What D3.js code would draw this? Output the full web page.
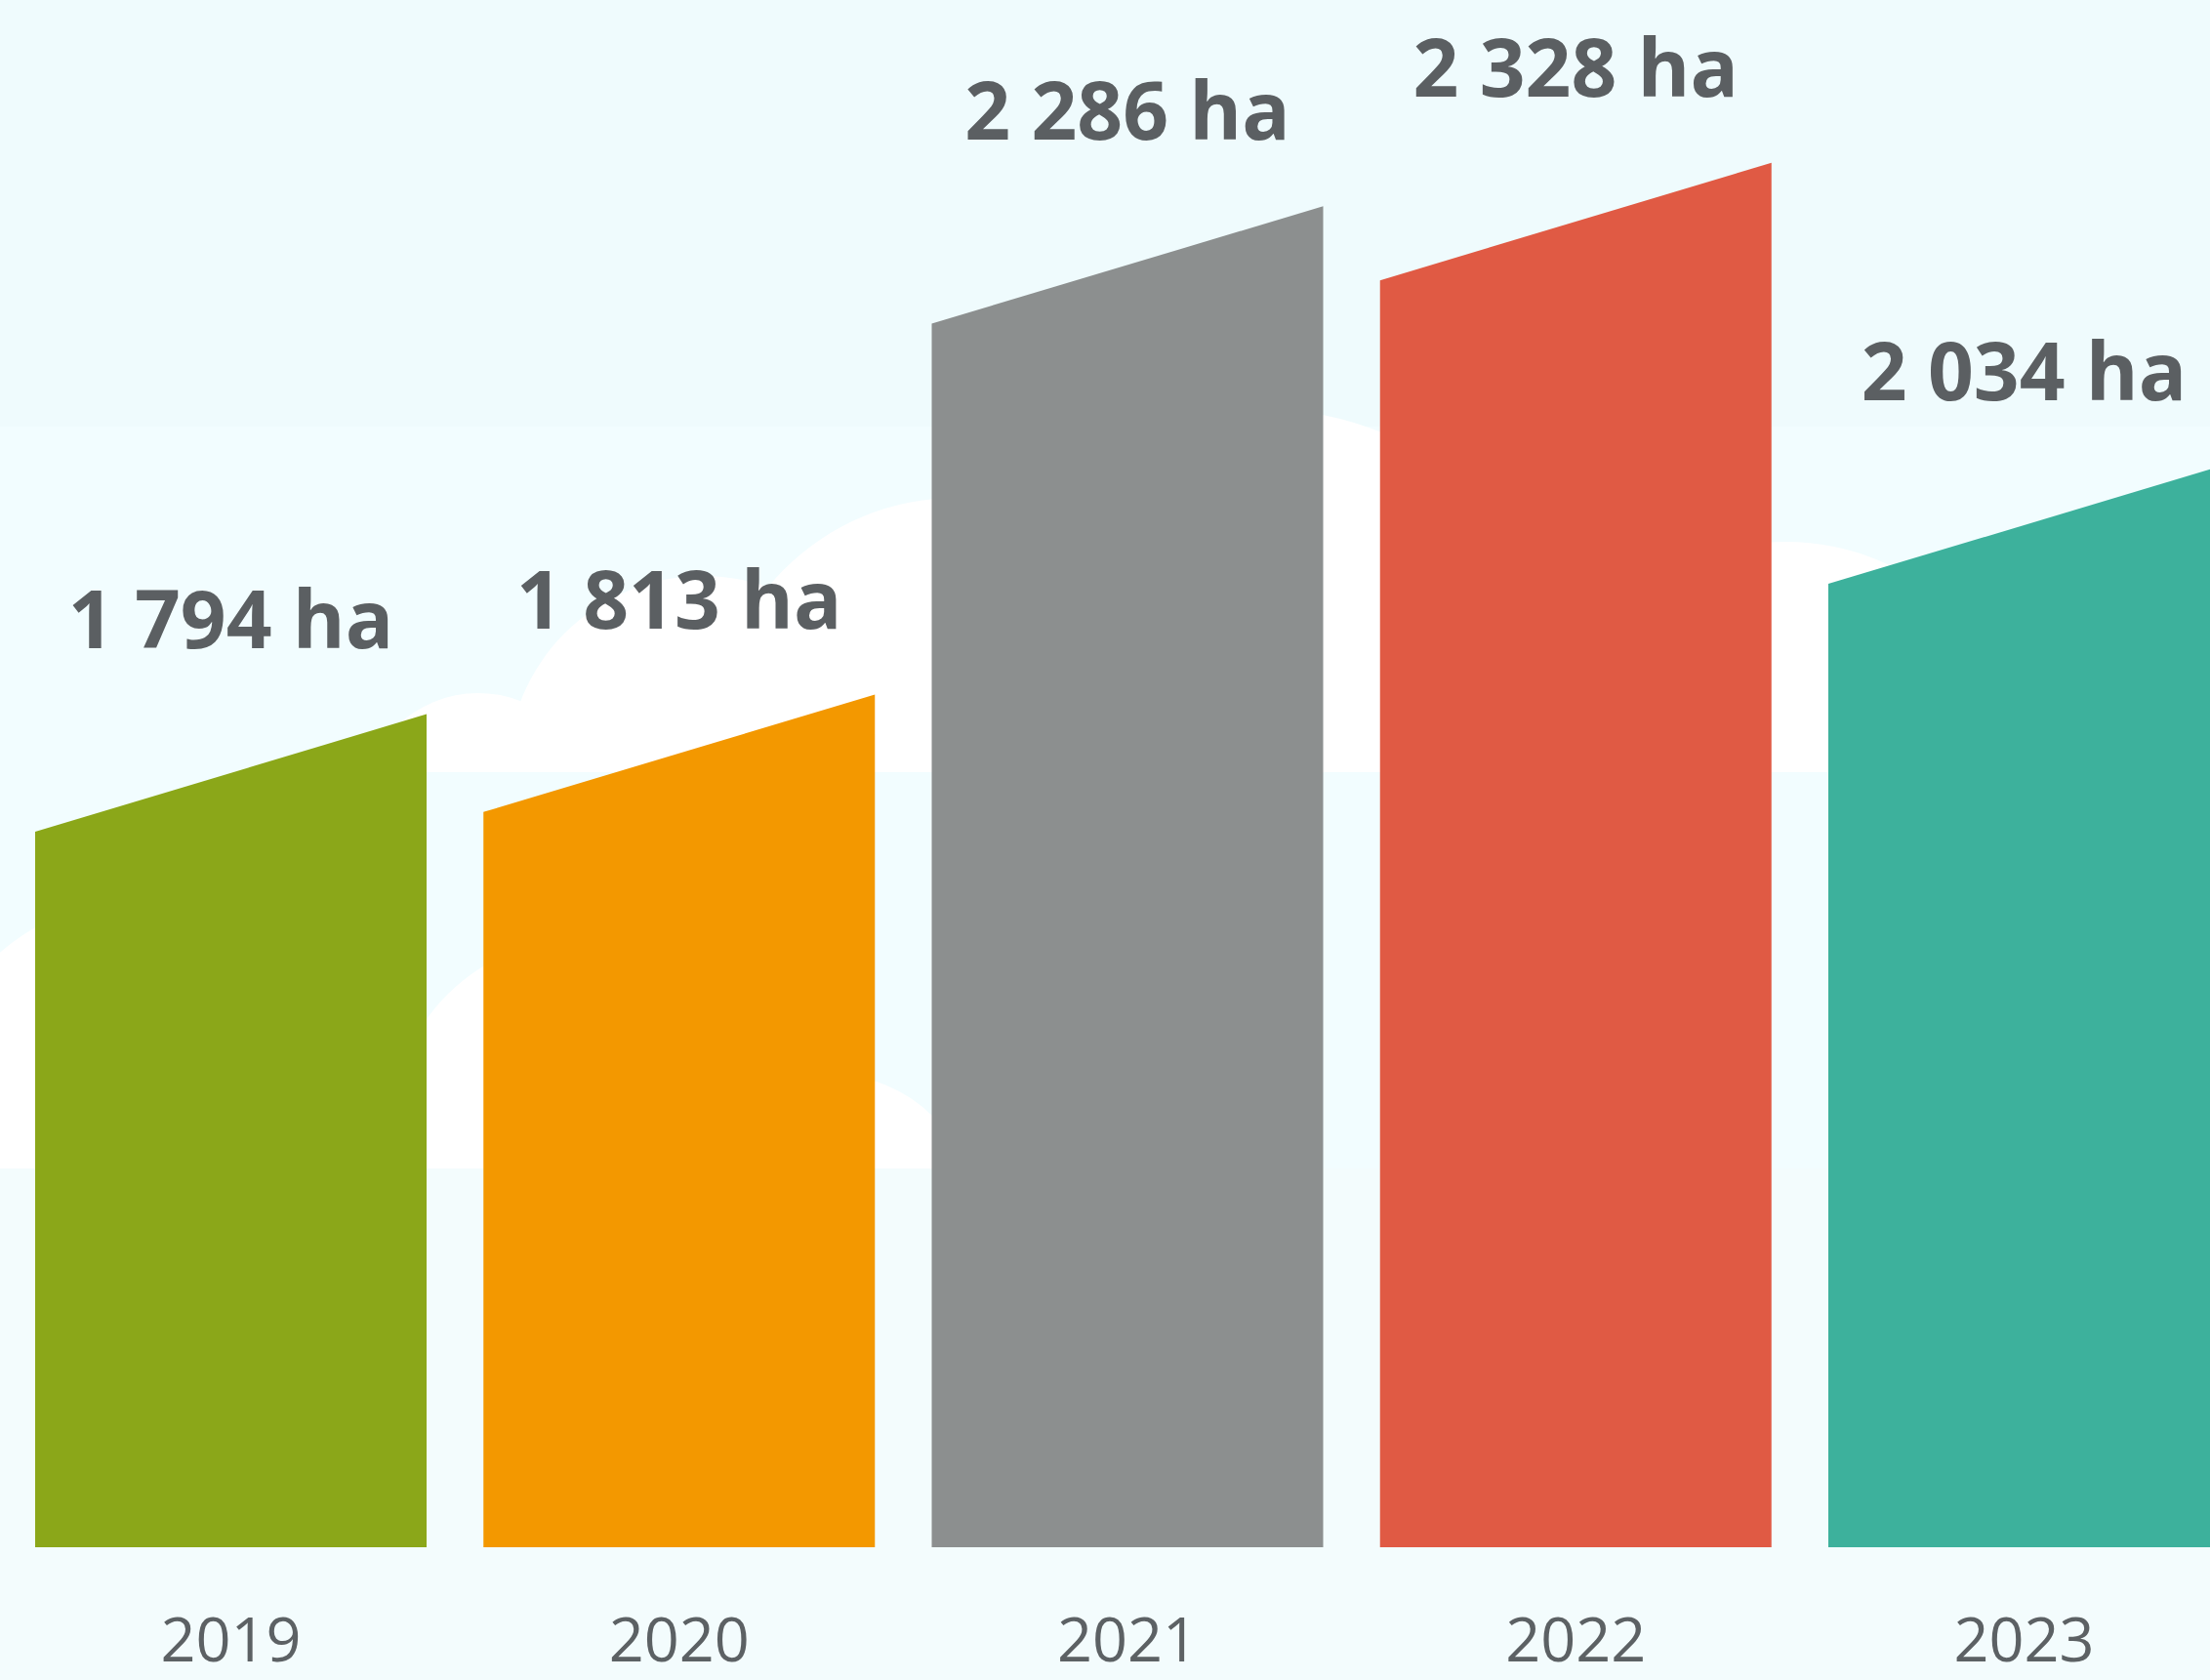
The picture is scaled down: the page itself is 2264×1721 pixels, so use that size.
<!DOCTYPE html>
<html>
<head>
<meta charset="utf-8">
<script src="https://cdn.jsdelivr.net/npm/d3@7"></script>
<style>
  html, body { margin: 0; padding: 0; background: #f3fdfe; }
  svg { display: block; }
</style>
</head>
<body>
<svg id="chart" width="2264" height="1721"></svg>
<script>
// ---- data ----
const years = ["2019", "2020", "2021", "2022", "2023"];
const areas = [1794, 1813, 2286, 2328, 2034];
const unit = "ha";
const barColors = ["#8ba719", "#f39800", "#8c8f8f", "#e05a44", "#3db19c"];

// ---- layout ----
const W = 2264, H = 1721;
const baseY = 1585;
const svg = d3.select("#chart");

const x = d3.scaleBand()
  .domain(years)
  .range([36, 2274])
  .paddingInner(0.1268)
  .paddingOuter(0);

const y = d3.scaleLinear()
  .domain([1044, 2328])
  .range([baseY, 227]);

const fmt = d3.formatLocale({ decimal: ",", thousands: "\u00a0", grouping: [3], currency: ["", ""] }).format(",d");

// ---- background ----
const bg = svg.append("g");
bg.append("rect").attr("x", 0).attr("y", 0).attr("width", W).attr("height", H).attr("fill", "#f3fcfd");
bg.append("rect").attr("x", 0).attr("y", 0).attr("width", W).attr("height", 1197).attr("fill", "#f2fdff");
bg.append("rect").attr("x", 0).attr("y", 0).attr("width", W).attr("height", 437).attr("fill", "#effbfd");

const defs = svg.append("defs");
defs.append("clipPath").attr("id", "clipUpper")
  .append("rect").attr("x", 0).attr("y", 0).attr("width", W).attr("height", 791);
defs.append("clipPath").attr("id", "clipLower")
  .append("rect").attr("x", 0).attr("y", 0).attr("width", W).attr("height", 1197);

const upperCloud = [[490, 830, 120], [720, 790, 200], [980, 760, 250], [1300, 720, 300], [1830, 800, 245]];
const lowerCloud = [[150, 1150, 230], [600, 1160, 200], [850, 1250, 150]];

bg.append("g").attr("clip-path", "url(#clipUpper)")
  .selectAll("circle").data(upperCloud).join("circle")
  .attr("cx", d => d[0]).attr("cy", d => d[1]).attr("r", d => d[2]).attr("fill", "#ffffff");
bg.append("g").attr("clip-path", "url(#clipLower)")
  .selectAll("circle").data(lowerCloud).join("circle")
  .attr("cx", d => d[0]).attr("cy", d => d[1]).attr("r", d => d[2]).attr("fill", "#ffffff");

// ---- bars (slanted roof) ----
const roof = 0.30 * x.bandwidth();
const data = years.map((yr, i) => ({ year: yr, value: areas[i], color: barColors[i] }));

svg.append("g").selectAll("path").data(data).join("path")
  .attr("fill", d => d.color)
  .attr("d", d => {
    const x0 = x(d.year), x1 = x0 + x.bandwidth();
    const m = y(d.value);
    return `M${x0},${baseY}L${x0},${m + roof / 2}L${x1},${m - roof / 2}L${x1},${baseY}Z`;
  });

// ---- value labels ----
svg.append("g").selectAll("text").data(data).join("text")
  .attr("x", d => x(d.year) + x.bandwidth() / 2)
  .attr("y", d => y(d.value) - 128)
  .attr("text-anchor", "middle")
  .attr("font-family", "'Open Sans', sans-serif")
  .attr("font-weight", 700)
  .attr("font-size", 82)
  .attr("fill", "#5b5f62")
  .text(d => fmt(d.value) + " " + unit);

// ---- year axis ----
const axis = svg.append("g")
  .attr("transform", `translate(0,${baseY})`)
  .call(d3.axisBottom(x).tickSize(0).tickPadding(72));
axis.select(".domain").remove();
axis.selectAll("text")
  .attr("font-family", "'Open Sans', sans-serif")
  .attr("font-size", 63)
  .attr("font-weight", 400)
  .attr("fill", "#5c6164");
</script>
</body>
</html>
